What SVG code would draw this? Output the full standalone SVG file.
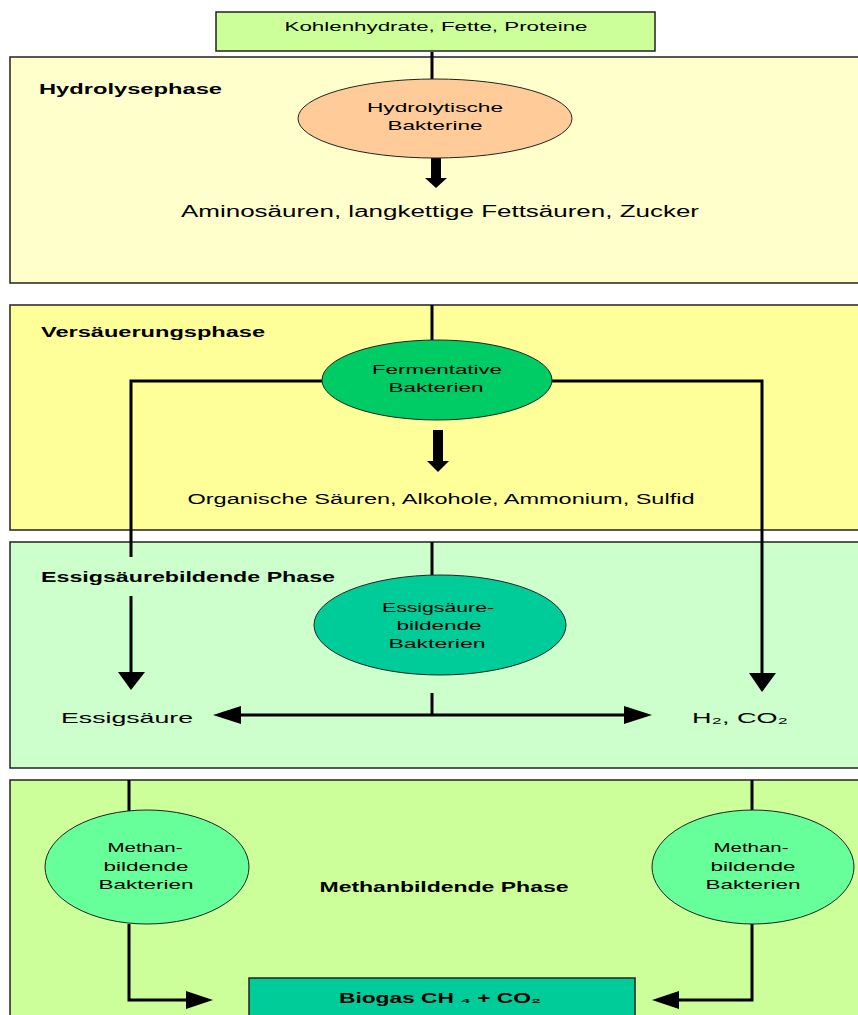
<svg xmlns="http://www.w3.org/2000/svg" width="858" height="1015" viewBox="0 0 858 1015">
<style>
.box{stroke:#222;stroke-width:1.5}
.ell{stroke:#222;stroke-width:1}
.t{font-family:"Liberation Sans",Arial,sans-serif;font-size:13px;fill:#000;text-anchor:middle}
.b{font-family:"Liberation Sans",Arial,sans-serif;font-size:14px;font-weight:bold;fill:#000}
.ln{stroke:#000;stroke-width:3;fill:none}
.ah{fill:#000}
</style>
<rect width="858" height="1015" fill="#ffffff"/>

<g id="phase-hydrolyse">
<rect class="box" x="10" y="57" width="860" height="226" fill="#ffffcc"/>
<text class="b" x="39" y="94" textLength="183" lengthAdjust="spacingAndGlyphs">Hydrolysephase</text>
</g>
<g id="phase-versaeuerung">
<rect class="box" x="10" y="305" width="860" height="225" fill="#ffff99"/>
<text class="b" x="41" y="337" textLength="224" lengthAdjust="spacingAndGlyphs">Versäuerungsphase</text>
</g>
<g id="phase-essig">
<rect class="box" x="10" y="542" width="860" height="226" fill="#ccffcc"/>
</g>
<g id="phase-methan">
<rect class="box" x="10" y="780" width="860" height="250" fill="#ccff99"/>
<text class="b" x="444" y="892" text-anchor="middle" textLength="249" lengthAdjust="spacingAndGlyphs">Methanbildende Phase</text>
</g>

<g id="connectors">
<line class="ln" x1="432" y1="52" x2="432" y2="79"/>
<line class="ln" x1="432" y1="305" x2="432" y2="340"/>
<line class="ln" x1="432" y1="542" x2="432" y2="575"/>
<!-- thick arrows -->
<rect class="ah" x="431" y="158" width="10" height="21"/>
<polygon class="ah" points="425,178 447,178 436,188"/>
<rect class="ah" x="433" y="430" width="10" height="32"/>
<polygon class="ah" points="427,461 449,461 438,472"/>
<!-- Fermentative branches -->
<polyline class="ln" points="322,381 131,381 131,674"/>
<polygon class="ah" points="118,672 145,672 131,690"/>
<polyline class="ln" points="552,381 762,381 762,675"/>
<polygon class="ah" points="749,673 776,673 762,692"/>
<!-- Essig split -->
<line class="ln" x1="432" y1="693" x2="432" y2="715"/>
<line class="ln" x1="238" y1="715" x2="627" y2="715"/>
<polygon class="ah" points="213,715 241,706 241,724"/>
<polygon class="ah" points="652,715 624,706 624,724"/>
<!-- Methan -->
<line class="ln" x1="129" y1="780" x2="129" y2="813"/>
<polyline class="ln" points="129,924 129,1000 189,1000"/>
<polygon class="ah" points="213,1000 186,991 186,1009"/>
<line class="ln" x1="752" y1="780" x2="752" y2="813"/>
<polyline class="ln" points="752,924 752,1000 676,1000"/>
<polygon class="ah" points="652,1000 679,991 679,1009"/>
</g>

<g id="label-essig">
<rect x="36" y="557" width="302" height="39" fill="#ccffcc"/>
<text class="b" x="41" y="582" textLength="294" lengthAdjust="spacingAndGlyphs">Essigsäurebildende Phase</text>
</g>

<g id="input">
<rect class="box" x="216" y="12" width="439" height="39" fill="#ccff99"/>
<text class="t" x="436" y="31" textLength="303" lengthAdjust="spacingAndGlyphs">Kohlenhydrate, Fette, Proteine</text>
</g>

<g id="hydrolytische-bakterien">
<ellipse class="ell" cx="435" cy="118.5" rx="137" ry="39.5" fill="#ffcc99"/>
<text class="t" x="435" y="112" textLength="136" lengthAdjust="spacingAndGlyphs">Hydrolytische</text>
<text class="t" x="435" y="130" textLength="95" lengthAdjust="spacingAndGlyphs">Bakterine</text>
</g>
<g id="produkte-hydrolyse">
<text class="t" x="440" y="217" style="font-size:16px" textLength="518" lengthAdjust="spacingAndGlyphs">Aminosäuren, langkettige Fettsäuren, Zucker</text>
</g>

<g id="fermentative-bakterien">
<ellipse class="ell" cx="437" cy="380" rx="115" ry="40" fill="#00cc66"/>
<text class="t" x="437" y="374" textLength="130" lengthAdjust="spacingAndGlyphs">Fermentative</text>
<text class="t" x="436" y="392" textLength="95" lengthAdjust="spacingAndGlyphs">Bakterien</text>
</g>
<g id="produkte-versaeuerung">
<text class="t" x="441" y="504" style="font-size:14px" textLength="507" lengthAdjust="spacingAndGlyphs">Organische Säuren, Alkohole, Ammonium, Sulfid</text>
</g>

<g id="essig-bakterien">
<ellipse class="ell" cx="440" cy="625" rx="126" ry="50" fill="#00cc99"/>
<text class="t" x="438" y="612" textLength="112" lengthAdjust="spacingAndGlyphs">Essigsäure-</text>
<text class="t" x="439" y="630" textLength="85" lengthAdjust="spacingAndGlyphs">bildende</text>
<text class="t" x="437" y="648" textLength="97" lengthAdjust="spacingAndGlyphs">Bakterien</text>
</g>
<g id="essigsaeure">
<text class="t" x="127" y="723" style="font-size:15px" textLength="132" lengthAdjust="spacingAndGlyphs">Essigsäure</text>
</g>
<g id="h2-co2">
<text class="t" x="740" y="723" style="font-size:15px" textLength="96" lengthAdjust="spacingAndGlyphs">H₂, CO₂</text>
</g>

<g id="methan-bakterien-links">
<ellipse class="ell" cx="147" cy="867" rx="102" ry="57" fill="#66ff99"/>
<text class="t" x="145" y="852" textLength="75" lengthAdjust="spacingAndGlyphs">Methan-</text>
<text class="t" x="146" y="871" textLength="85" lengthAdjust="spacingAndGlyphs">bildende</text>
<text class="t" x="146" y="889" textLength="95" lengthAdjust="spacingAndGlyphs">Bakterien</text>
</g>
<g id="methan-bakterien-rechts">
<ellipse class="ell" cx="753" cy="867" rx="101" ry="57" fill="#66ff99"/>
<text class="t" x="751" y="852" textLength="75" lengthAdjust="spacingAndGlyphs">Methan-</text>
<text class="t" x="753" y="871" textLength="85" lengthAdjust="spacingAndGlyphs">bildende</text>
<text class="t" x="753" y="889" textLength="95" lengthAdjust="spacingAndGlyphs">Bakterien</text>
</g>

<g id="biogas">
<rect class="box" x="249" y="978" width="386" height="50" fill="#00cc99"/>
<text class="b" x="440" y="1003" text-anchor="middle" textLength="202" lengthAdjust="spacingAndGlyphs">Biogas CH ₄ + CO₂</text>
</g>
</svg>
